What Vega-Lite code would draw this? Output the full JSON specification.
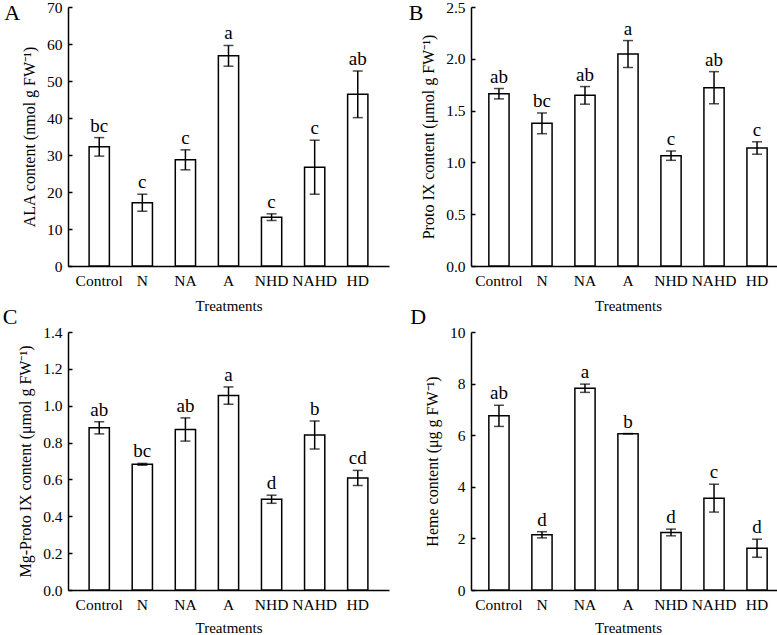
{
  "$schema": "https://vega.github.io/schema/vega-lite/v6.json",
  "padding": {"left": 2, "top": 0, "right": 0, "bottom": 0},
  "data": {"values": [
    {"panel": "A", "treatment": "Control", "mean": 32.2, "se": 2.5, "letter": "bc"},
    {"panel": "A", "treatment": "N", "mean": 17.1, "se": 2.3, "letter": "c"},
    {"panel": "A", "treatment": "NA", "mean": 28.7, "se": 2.7, "letter": "c"},
    {"panel": "A", "treatment": "A", "mean": 56.8, "se": 2.8, "letter": "a"},
    {"panel": "A", "treatment": "NHD", "mean": 13.2, "se": 0.9, "letter": "c"},
    {"panel": "A", "treatment": "NAHD", "mean": 26.7, "se": 7.3, "letter": "c"},
    {"panel": "A", "treatment": "HD", "mean": 46.4, "se": 6.3, "letter": "ab"},
    {"panel": "B", "treatment": "Control", "mean": 1.663, "se": 0.05, "letter": "ab"},
    {"panel": "B", "treatment": "N", "mean": 1.377, "se": 0.1, "letter": "bc"},
    {"panel": "B", "treatment": "NA", "mean": 1.647, "se": 0.085, "letter": "ab"},
    {"panel": "B", "treatment": "A", "mean": 2.046, "se": 0.13, "letter": "a"},
    {"panel": "B", "treatment": "NHD", "mean": 1.065, "se": 0.045, "letter": "c"},
    {"panel": "B", "treatment": "NAHD", "mean": 1.721, "se": 0.155, "letter": "ab"},
    {"panel": "B", "treatment": "HD", "mean": 1.139, "se": 0.06, "letter": "c"},
    {"panel": "C", "treatment": "Control", "mean": 0.88, "se": 0.033, "letter": "ab"},
    {"panel": "C", "treatment": "N", "mean": 0.682, "se": 0.005, "letter": "bc"},
    {"panel": "C", "treatment": "NA", "mean": 0.871, "se": 0.063, "letter": "ab"},
    {"panel": "C", "treatment": "A", "mean": 1.055, "se": 0.047, "letter": "a"},
    {"panel": "C", "treatment": "NHD", "mean": 0.4925, "se": 0.022, "letter": "d"},
    {"panel": "C", "treatment": "NAHD", "mean": 0.841, "se": 0.076, "letter": "b"},
    {"panel": "C", "treatment": "HD", "mean": 0.608, "se": 0.041, "letter": "cd"},
    {"panel": "D", "treatment": "Control", "mean": 6.75, "se": 0.41, "letter": "ab"},
    {"panel": "D", "treatment": "N", "mean": 2.14, "se": 0.12, "letter": "d"},
    {"panel": "D", "treatment": "NA", "mean": 7.82, "se": 0.16, "letter": "a"},
    {"panel": "D", "treatment": "A", "mean": 6.06, "se": 0.0, "letter": "b"},
    {"panel": "D", "treatment": "NHD", "mean": 2.23, "se": 0.13, "letter": "d"},
    {"panel": "D", "treatment": "NAHD", "mean": 3.56, "se": 0.54, "letter": "c"},
    {"panel": "D", "treatment": "HD", "mean": 1.62, "se": 0.35, "letter": "d"}
  ]},
  "columns": 2,
  "spacing": {"row": -8, "column": 19},
  "concat": [
    {
      "width": 321, "height": 259,
      "title": {"text": "A", "orient": "left", "anchor": "end", "frame": "group", "angle": 0, "align": "right", "baseline": "top", "offset": -14.5, "dy": -4},
      "transform": [{"filter": "datum.panel === 'A'"}, {"calculate": "datum.mean + datum.se", "as": "top"}],
      "encoding": {
        "x": {"field": "treatment", "type": "nominal", "sort": ["Control", "N", "NA", "A", "NHD", "NAHD", "HD"], "scale": {"paddingInner": 0.53, "paddingOuter": 0.49}, "axis": {"title": "Treatments"}},
        "y": {"field": "mean", "type": "quantitative", "title": "ALA content (nmol g FW⁻¹)", "scale": {"domain": [0, 70]}, "axis": {"values": [0, 10, 20, 30, 40, 50, 60, 70], "labelOverlap": false}}
      },
      "layer": [
        {"mark": {"type": "bar", "fill": "white", "stroke": "black", "strokeWidth": 1.5}},
        {"mark": {"type": "errorbar", "ticks": true, "size": 10, "thickness": 1.5, "color": "black"}, "encoding": {"yError": {"field": "se"}}},
        {"mark": {"type": "text", "baseline": "bottom", "dy": -2, "fontSize": 19},
         "encoding": {"y": {"field": "top", "type": "quantitative", "title": "ALA content (nmol g FW⁻¹)", "scale": {"domain": [0, 70]}, "axis": {"values": [0, 10, 20, 30, 40, 50, 60, 70], "labelOverlap": false}}, "text": {"field": "letter"}}}
      ]
    },
    {
      "width": 314, "height": 259,
      "title": {"text": "B", "orient": "left", "anchor": "end", "frame": "group", "angle": 0, "align": "right", "baseline": "top", "offset": -17.5, "dy": -4},
      "transform": [{"filter": "datum.panel === 'B'"}, {"calculate": "datum.mean + datum.se", "as": "top"}],
      "encoding": {
        "x": {"field": "treatment", "type": "nominal", "sort": ["Control", "N", "NA", "A", "NHD", "NAHD", "HD"], "scale": {"paddingInner": 0.53, "paddingOuter": 0.415}, "axis": {"title": "Treatments"}},
        "y": {"field": "mean", "type": "quantitative", "title": "Proto IX content (μmol g FW⁻¹)", "scale": {"domain": [0, 2.5]}, "axis": {"values": [0, 0.5, 1, 1.5, 2, 2.5], "format": ".1f", "labelOverlap": false}}
      },
      "layer": [
        {"mark": {"type": "bar", "fill": "white", "stroke": "black", "strokeWidth": 1.5}},
        {"mark": {"type": "errorbar", "ticks": true, "size": 10, "thickness": 1.5, "color": "black"}, "encoding": {"yError": {"field": "se"}}},
        {"mark": {"type": "text", "baseline": "bottom", "dy": -2, "fontSize": 19},
         "encoding": {"y": {"field": "top", "type": "quantitative", "title": "Proto IX content (μmol g FW⁻¹)", "scale": {"domain": [0, 2.5]}, "axis": {"values": [0, 0.5, 1, 1.5, 2, 2.5], "format": ".1f", "labelOverlap": false}}, "text": {"field": "letter"}}}
      ]
    },
    {
      "width": 321, "height": 258,
      "title": {"text": "C", "orient": "left", "anchor": "end", "frame": "group", "angle": 0, "align": "right", "baseline": "top", "offset": -14.5, "dy": -25},
      "transform": [{"filter": "datum.panel === 'C'"}, {"calculate": "datum.mean + datum.se", "as": "top"}],
      "encoding": {
        "x": {"field": "treatment", "type": "nominal", "sort": ["Control", "N", "NA", "A", "NHD", "NAHD", "HD"], "scale": {"paddingInner": 0.53, "paddingOuter": 0.49}, "axis": {"title": "Treatments", "titlePadding": 8}},
        "y": {"field": "mean", "type": "quantitative", "title": "Mg-Proto IX content (μmol g FW⁻¹)", "scale": {"domain": [0, 1.4]}, "axis": {"values": [0, 0.2, 0.4, 0.6, 0.8, 1, 1.2, 1.4], "format": ".1f", "labelOverlap": false}}
      },
      "layer": [
        {"mark": {"type": "bar", "fill": "white", "stroke": "black", "strokeWidth": 1.5}},
        {"mark": {"type": "errorbar", "ticks": true, "size": 10, "thickness": 1.5, "color": "black"}, "encoding": {"yError": {"field": "se"}}},
        {"mark": {"type": "text", "baseline": "bottom", "dy": -2, "fontSize": 19},
         "encoding": {"y": {"field": "top", "type": "quantitative", "title": "Mg-Proto IX content (μmol g FW⁻¹)", "scale": {"domain": [0, 1.4]}, "axis": {"values": [0, 0.2, 0.4, 0.6, 0.8, 1, 1.2, 1.4], "format": ".1f", "labelOverlap": false}}, "text": {"field": "letter"}}}
      ]
    },
    {
      "width": 314, "height": 258,
      "title": {"text": "D", "orient": "left", "anchor": "end", "frame": "group", "angle": 0, "align": "right", "baseline": "top", "offset": -17.5, "dy": -25},
      "transform": [{"filter": "datum.panel === 'D'"}, {"calculate": "datum.mean + datum.se", "as": "top"}],
      "encoding": {
        "x": {"field": "treatment", "type": "nominal", "sort": ["Control", "N", "NA", "A", "NHD", "NAHD", "HD"], "scale": {"paddingInner": 0.53, "paddingOuter": 0.415}, "axis": {"title": "Treatments", "titlePadding": 8}},
        "y": {"field": "mean", "type": "quantitative", "title": "Heme content (μg g FW⁻¹)", "scale": {"domain": [0, 10]}, "axis": {"values": [0, 2, 4, 6, 8, 10], "labelOverlap": false}}
      },
      "layer": [
        {"mark": {"type": "bar", "fill": "white", "stroke": "black", "strokeWidth": 1.5}},
        {"mark": {"type": "errorbar", "ticks": true, "size": 10, "thickness": 1.5, "color": "black"}, "encoding": {"yError": {"field": "se"}}},
        {"mark": {"type": "text", "baseline": "bottom", "dy": -2, "fontSize": 19},
         "encoding": {"y": {"field": "top", "type": "quantitative", "title": "Heme content (μg g FW⁻¹)", "scale": {"domain": [0, 10]}, "axis": {"values": [0, 2, 4, 6, 8, 10], "labelOverlap": false}}, "text": {"field": "letter"}}}
      ]
    }
  ],
  "config": {
    "font": "Liberation Serif",
    "view": {"stroke": null},
    "axis": {"domainColor": "black", "tickColor": "black", "labelColor": "black", "titleColor": "black", "labelFont": "Liberation Serif", "titleFont": "Liberation Serif", "labelFontSize": 15.5, "titleFontSize": 15, "titleFontWeight": "normal", "grid": false, "domainWidth": 1.5, "tickWidth": 1.5, "labelOverlap": false, "labelBound": false},
    "axisX": {"ticks": false, "labelAngle": 0, "labelPadding": 7, "titlePadding": 10},
    "axisY": {"tickSize": -4, "labelPadding": 10, "titlePadding": 9, "titleFontSize": 16},
    "text": {"font": "Liberation Serif", "color": "black"},
    "title": {"font": "Liberation Serif", "fontSize": 22, "fontWeight": "normal", "color": "black"}
  }
}
